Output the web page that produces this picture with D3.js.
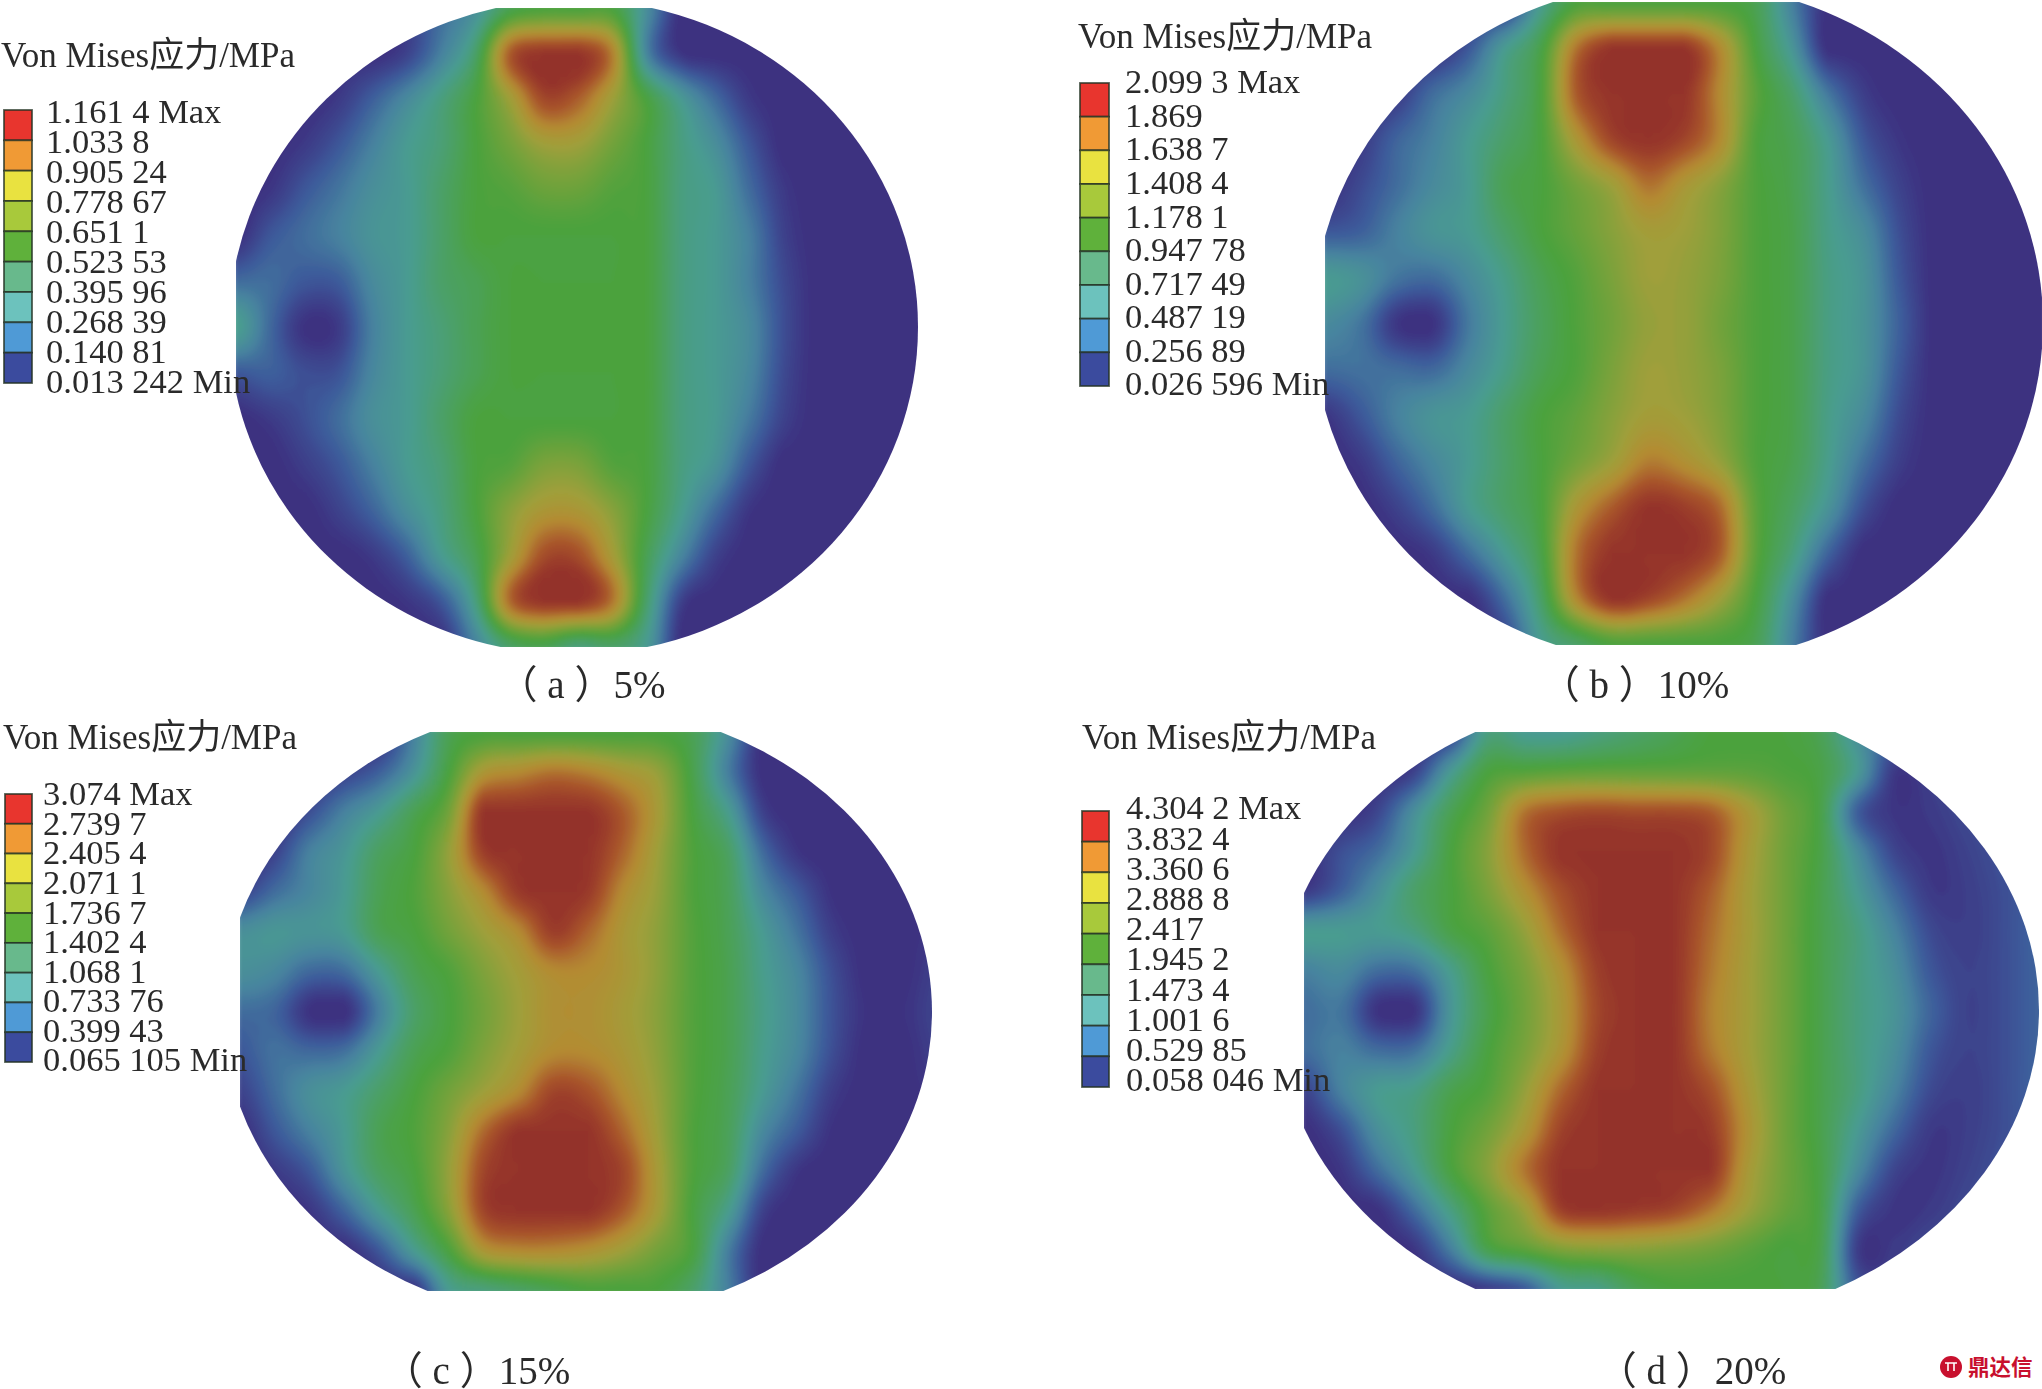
<!DOCTYPE html>
<html><head><meta charset="utf-8">
<style>html,body{margin:0;padding:0;background:#fff}svg{display:block}</style>
<script src="https://cdn.jsdelivr.net/npm/d3@7"></script></head><body>
<svg id="c" width="2042" height="1389"></svg>
<script>
// Stress, in legend steps (0 = Min colour, 10 = Max colour)
const fieldA=[
[0,0,0,0,0,.5,1.5,2.5,4.5,5,5,5,2.5,0,0,0,0,0,0,0,0],
[0,0,0,0,0,.5,2,4,9,10,10,8.3,2.2,.2,0,0,0,0,0,0,0],
[0,0,0,.3,1.2,2.3,3.5,5,7,9.4,8.9,7,5,3,1.5,.3,0,0,0,0,0],
[0,0,.3,1,2,3,3.7,5,6,7,7,6,5,3.5,2.5,1,0,0,0,0,0],
[0,.2,1,1.7,2.5,3,4,5,5.3,5.8,5.8,5.3,5,3.5,3,1.5,.3,0,0,0,0],
[0,1,1.5,2,2.7,3,4,5,5,5,5,5,5,3.5,3,2,.5,0,0,0,0],
[1.5,1.5,1,1.1,2.3,3,4,4.5,5,5,5,5,5,3.5,3,2,.7,0,0,0,0],
[3.2,1.4,.1,.3,2,3,3.7,4.5,5,5,5,5,5,3.5,3,2.3,.8,0,0,0,0],
[1,1.2,.8,.9,2.2,3,3.7,4.5,5,5,5,5,5,3.5,3,2.2,.7,0,0,0,0],
[0,.3,.8,1.5,2.5,3,4,5,5,5,5,5,5,3.5,3,1.8,.5,0,0,0,0],
[0,0,.4,1,2,3,3.7,5,5.3,6.2,6.2,5.3,5,3.5,2.7,1,0,0,0,0,0],
[0,0,0,.5,1.3,2.5,3.5,5,6.5,7.5,7.5,6.5,5,3.2,1.5,.2,0,0,0,0,0],
[0,0,0,0,.3,1.2,3,4.5,7,9.3,9.3,7.3,4.5,2.2,.5,0,0,0,0,0,0],
[0,0,0,0,0,.2,1,3.5,8.7,10,10,8.5,4,.5,0,0,0,0,0,0,0],
[0,0,0,0,0,0,0,2,4,4.5,3.5,4,3,0,0,0,0,0,0,0,0]];
const fieldB=[
[0,0,0,0,0,0,3,5,5,5,5,5,4.5,2,0,0,0,0,0,0,0],
[0,0,0,0,1,3,4.7,8.5,10,10,10,8,5,2.8,0,0,0,0,0,0,0],
[0,0,.3,1.5,2.3,3.5,5,9,10,10,10,8,5.5,4,1.8,.4,0,0,0,0,0],
[0,.3,1.3,2,3,4,5,7.5,9.5,10,9.5,8,5.2,4.5,3,1,.2,0,0,0,0],
[0,.7,1.5,2.3,3,4.5,5,6,7,8.5,7.5,6.5,5.2,4.6,3.2,1.6,.5,0,0,0,0],
[1,1.2,2,2.7,3,4,5,5.7,6.5,7.2,7,6.3,5.2,4.7,3.3,2.4,.8,0,0,0,0],
[3,2.6,1.7,1.5,2.3,3.3,4.5,5.3,6.2,7,6.8,6.2,5.2,4.7,3.4,2.7,1,0,0,0,0],
[2.3,1.7,.2,.1,1.8,3.1,4.3,5.2,6,6.8,6.8,6,5.2,4.7,3.4,2.7,1.2,0,0,0,0],
[1.5,1.6,1.5,1.4,2.3,3.3,4.5,5.2,6.2,7,6.8,6.2,5.2,4.7,3.4,2.7,1,0,0,0,0],
[.2,1,2,2.7,3,4,5,5.6,6.5,7.2,7,6.3,5.2,4.7,3.3,2.3,.7,0,0,0,0],
[0,.3,1.3,2.2,3,4,5,6,7,8.3,7.8,6.8,5.2,4.6,3.2,1.6,.4,0,0,0,0],
[0,0,.5,1.5,3,4,5,7.5,9,10,9.7,8.7,5.5,4.2,2.7,.8,0,0,0,0,0],
[0,0,0,.3,1.5,3,4.7,8.5,10,10,10,9,5.5,3.6,1.3,0,0,0,0,0,0],
[0,0,0,0,0,1.5,4,8,10,9.5,8.5,7,5,2.5,0,0,0,0,0,0,0],
[0,0,0,0,0,.5,3,4,5,5,5,5,4.5,2,0,0,0,0,0,0,0]];
const fieldC=[
[0,0,0,0,0,2,4.5,5,5,5,5,5,5,4.5,2.5,0,0,0,0,0,0],
[0,0,0,.5,1.2,2.7,5,7.5,8,8.5,8.2,7.5,6.8,4.7,2,0,0,0,0,0,0],
[0,0,.8,2,3,4.5,6,10,10,10,10,9,7.3,5,3.2,.5,0,0,0,0,0],
[0,.5,2,2.8,4.2,5,6.8,9.7,10,10,10,8.8,7,5.2,4.2,1.5,.2,0,0,0,0],
[.5,1.5,2.2,3,4.5,5.2,6.5,8,9.8,10,9.8,8,6.8,5.2,4.4,2.3,1.1,.1,0,0,0],
[2.5,2.8,2.7,3,4.5,5,6,7,8,9.7,8.8,7.5,6.6,5.3,4.5,3,1.7,.4,0,0,.2],
[2.5,2.2,1.4,1.5,3,4.5,5.2,6.3,7.2,8,8,7.5,6.6,5.3,4.6,3.2,2.2,.8,0,0,.4],
[1.5,1.3,.1,0,2,4,5,6,7,7.8,7.8,7.3,6.5,5.3,4.6,3.3,2.3,.9,.1,.1,.5],
[1,1.6,1.4,1.6,3,4.5,5.2,6.3,7.2,8,8,7.5,6.6,5.3,4.6,3.2,2.2,.8,0,0,.4],
[.5,1.5,2.5,3,4,5,6,7,8,9.5,9.2,8,6.8,5.3,4.5,3,1.7,.4,0,0,.2],
[0,1,2,3,4.5,5.2,6.5,8.7,10,10,10,8.8,7,5.2,4.4,2.3,1.1,.1,0,0,0],
[0,.3,1,2.7,4.2,5,6.8,9.5,10,10,10,9.5,7.3,5.2,4.2,1.5,.2,0,0,0,0],
[0,0,.2,1.3,3,4.5,6.5,9.5,10,10,10,9,7.2,5,3.2,.5,0,0,0,0,0],
[0,0,0,0,1,3,5,7.5,8,8,7.7,7,6,5,2,0,0,0,0,0,0],
[0,0,0,0,0,0,3,3.5,4,4.5,5,5,5,4,2,0,0,0,0,0,0]];
const fieldD=[
[0,0,0,0,.5,3.5,3,3,3.5,4,4.5,5,5,5,4.5,2.5,1.2,1,1,1,1],
[0,0,0,.5,3,5,5.3,5.5,5.6,5.6,5.6,5.6,5.5,5.2,4.8,3,.3,.5,.8,1.2,1.2],
[0,0,.6,2.5,4.5,6,8.5,9.2,9.4,9.3,9.3,9,7.5,6,4.8,1.2,.2,.3,.7,1,1],
[0,.8,1.5,3,5,6.5,8.7,10,10,10,10,9.5,7.5,6,4.8,2.4,.6,.2,.5,.9,1],
[.3,1.2,2.5,4,5,6.2,7.8,9.3,10,10,10,9,7.3,6,4.7,3,1.4,.3,.4,.8,1.2],
[3,3,3,3.5,4.8,5.5,6.8,8.7,10,10,10,8.7,7.3,6,4.7,3.5,2.1,.7,.4,.8,1.3],
[2,2.3,1.5,1.6,3.2,5,6.2,7.8,9.7,10,10,8.5,7.2,6,4.7,3.5,2.5,1,.5,.8,1.3],
[1.5,1.7,.1,.1,2.8,4.7,6,7.5,9.5,10,10,8.3,7.2,6,4.7,3.5,2.7,1.3,.5,.8,1.3],
[1.5,2,1.5,1.6,3.3,5,6.2,7.7,9.7,10,10,8.5,7.2,6,4.7,3.5,2.5,1,.5,.8,1.3],
[.5,2,3,3.3,4.6,5.3,6.8,8.8,10,10,10,9.3,7.5,6,4.7,3.5,2.1,.7,.4,.8,1.3],
[0,.8,2.5,3.5,5,6,7.5,9.6,10,10,10,9.8,7.8,6,4.7,3,1.4,.3,.4,.8,1.2],
[0,.2,1.5,3,5,6.5,8.5,10,10,10,10,10,7.5,6,4.8,2.4,.6,.2,.5,.9,1],
[0,0,.1,1.5,3.5,5.5,7,9.7,10,9.8,9.5,8.5,7,5.8,4.8,1.2,.2,.3,.7,1,1],
[0,0,0,.2,2,4.7,5.5,6.3,6.5,6.5,6.3,6,5.5,5,4.7,.4,.3,.7,.9,1,1],
[0,0,0,0,0,.3,1,3,3.3,4.5,5,5,5,5,4.5,1,.5,.7,.9,1,1]];

const labelsA=["1.161 4 Max","1.033 8","0.905 24","0.778 67","0.651 1","0.523 53","0.395 96","0.268 39","0.140 81","0.013 242 Min"];
const labelsB=["2.099 3 Max","1.869","1.638 7","1.408 4","1.178 1","0.947 78","0.717 49","0.487 19","0.256 89","0.026 596 Min"];
const labelsC=["3.074 Max","2.739 7","2.405 4","2.071 1","1.736 7","1.402 4","1.068 1","0.733 76","0.399 43","0.065 105 Min"];
const labelsD=["4.304 2 Max","3.832 4","3.360 6","2.888 8","2.417","1.945 2","1.473 4","1.001 6","0.529 85","0.058 046 Min"];
const captions=["（ a ）5%","（ b ）10%","（ c ）15%","（ d ）20%"];
const legendTitle="Von Mises应力/MPa";
const watermark="鼎达信";
const legendColors=["#e8342e","#f09a36","#e9e23f","#a8c93b","#5fb13a","#68b98c","#6cc2bd","#4f9ad6","#3a4c9e"];
const stepColors=["#3c3080","#3d5a9a","#47849f","#4a9c90","#4ba066","#4ba23d","#74a23a","#a09f3a","#b48a32","#a9562c","#93302a"];

const panels=[
 {f:fieldA,l:labelsA,x:[236,920],y:[8,647],cx:574,cy:327,rx:344,rxL:345,ry:327.5,left:236,top:8,bot:647,
  tx:1,ty:67,bx:[4,32],by:[110,383],lx:46,ly:[112,382],cap:[582,698]},
 {f:fieldB,l:labelsB,x:[1325,2043],y:[2,645],cx:1675,cy:323,rx:368,rxL:362,ry:341,left:1325,top:2,bot:645,
  tx:1078,ty:48,bx:[1080,1109],by:[83,386],lx:1125,ly:[82,384],cap:[1635,698]},
 {f:fieldC,l:labelsC,x:[240,936],y:[732,1291],cx:574,cy:1012,rx:358,rxL:351,ry:307,left:240,top:732,bot:1291,
  tx:3,ty:749,bx:[5,32],by:[794,1062],lx:43,ly:[794,1060],cap:[477,1384]},
 {f:fieldD,l:labelsD,x:[1304,2041],y:[732,1289],cx:1653,cy:1010.5,rx:386,rxL:376,ry:316,left:1304,top:732,bot:1289,
  tx:1082,ty:749,bx:[1082,1109],by:[811,1087],lx:1126,ly:[808,1080],cap:[1692,1384]}];

const svg=d3.select("#c");
const defs=svg.append("defs");
const blur=defs.append("filter").attr("id","soft").attr("x","-5%").attr("y","-5%").attr("width","110%").attr("height","110%");
blur.append("feGaussianBlur").attr("stdDeviation",2.5);
const blurT=defs.append("filter").attr("id","softT").attr("x","-5%").attr("y","-5%").attr("width","110%").attr("height","110%");
blurT.append("feGaussianBlur").attr("stdDeviation",0.55);

const stepColor=d3.scaleLinear().domain(d3.range(0,11)).range(stepColors).interpolate(d3.interpolateRgb);
const SUB=6;
function cubic(a,b,c,d,t){return b+.5*t*(c-a+t*(2*a-5*b+4*c-d+t*(3*(b-c)+d-a)));}
function refine(arr){
  const out=[];const n=arr.length;
  for(let i=0;i<n-1;i++){
    for(let s=0;s<SUB;s++){
      const v=cubic(arr[Math.max(i-1,0)],arr[i],arr[i+1],arr[Math.min(i+2,n-1)],s/SUB);
      out.push(Math.max(0,Math.min(10,v)));
    }
  }
  out.push(arr[n-1]);return out;
}
const levels=d3.range(0,10.01,.125);
panels.forEach((p,k)=>{
  const rowsFine=p.f.map(refine);
  const W=rowsFine[0].length;
  const cols=d3.range(W).map(j=>refine(rowsFine.map(r=>r[j])));
  const H=cols[0].length;
  const values=new Array(W*H);
  for(let j=0;j<W;j++)for(let i=0;i<H;i++)values[i*W+j]=cols[j][i];
  const X=d3.scaleLinear().domain([0.5,W-.5]).range(p.x);
  const Y=d3.scaleLinear().domain([0.5,H-.5]).range(p.y);
  const contours=d3.contours().size([W,H]).thresholds(levels)(values);
  const proj=d3.geoTransform({point(x,y){this.stream.point(X(x),Y(y));}});
  const path=d3.geoPath(proj);

  const cutId="cut"+k, shapeId="shape"+k;
  defs.append("clipPath").attr("id",cutId).append("rect")
    .attr("x",p.left).attr("y",p.top).attr("width",p.cx+p.rx+4-p.left).attr("height",p.bot-p.top);
  const shapeD=`M${p.cx},${p.cy-p.ry}A${p.rxL},${p.ry} 0 0 0 ${p.cx},${p.cy+p.ry}A${p.rx},${p.ry} 0 0 0 ${p.cx},${p.cy-p.ry}Z`;
  defs.append("clipPath").attr("id",shapeId).attr("clip-path",`url(#${cutId})`).append("path").attr("d",shapeD);

  const g=svg.append("g").attr("clip-path",`url(#${shapeId})`);
  const inner=g.append("g").attr("filter","url(#soft)");
  inner.selectAll("path").data(contours).join("path")
    .attr("d",path).attr("fill",d=>stepColor(d.value));

  // legend
  const n=p.l.length;
  const band=d3.scaleBand().domain(d3.range(legendColors.length)).range(p.by);
  const leg=svg.append("g");
  leg.append("g").attr("filter","url(#softT)")
    .selectAll("rect.c").data(legendColors).join("rect").attr("class","c")
    .attr("x",p.bx[0]).attr("width",p.bx[1]-p.bx[0])
    .attr("y",(d,i)=>band(i)).attr("height",band.bandwidth())
    .attr("fill",d=>d).attr("stroke","#263326").attr("stroke-width",1.8).attr("stroke-opacity",.8);
  const ly=d3.scalePoint().domain(d3.range(n)).range(p.ly);
  leg.selectAll("text.l").data(p.l).join("text").attr("class","l")
    .attr("x",p.lx).attr("y",(d,i)=>ly(i)).attr("dy","0.33em")
    .attr("font-family","'Liberation Serif',serif").attr("font-size",34.5).attr("fill","#2a2a2a")
    .attr("filter","url(#softT)").text(d=>d);
  leg.append("text").attr("x",p.tx).attr("y",p.ty)
    .attr("font-family","'Liberation Serif','Noto Sans CJK SC',serif").attr("font-size",35).attr("fill","#2a2a2a")
    .attr("filter","url(#softT)").text(legendTitle);
  svg.append("text").attr("x",p.cap[0]).attr("y",p.cap[1]).attr("text-anchor","middle")
    .attr("font-family","'Liberation Serif','Noto Sans CJK SC',serif").attr("font-size",39).attr("fill","#2a2a2a")
    .attr("filter","url(#softT)").text(captions[k]);
});
// watermark
svg.append("circle").attr("cx",1951).attr("cy",1367).attr("r",11).attr("fill","#c8102e");
svg.append("path").attr("d","M1945,1363H1957M1948,1363V1371M1954,1363V1371").attr("stroke","#fff").attr("stroke-width",1.6).attr("fill","none");
svg.append("text").attr("x",1968).attr("y",1375).attr("font-family","'Noto Sans CJK SC'").attr("font-weight",700)
  .attr("font-size",21.5).attr("fill","#c8102e").text(watermark);
</script></body></html>
